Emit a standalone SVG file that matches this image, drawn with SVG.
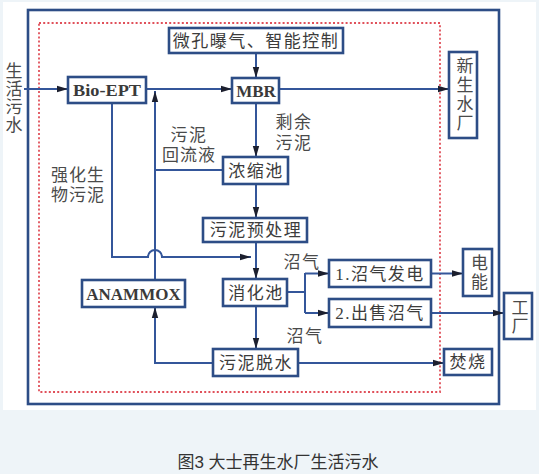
<svg xmlns="http://www.w3.org/2000/svg" width="539" height="474" viewBox="0 0 539 474">
<defs>
<marker id="ah" markerWidth="11" markerHeight="8" refX="11" refY="4" orient="auto" markerUnits="userSpaceOnUse">
<path d="M0,0.8 L11,4 L0,7.2 z" fill="#1c1f2e"/>
</marker>
<style>
.box{fill:#fff;stroke:#2d4d86;stroke-width:2.6}
.ln{fill:none;stroke:#34569a;stroke-width:2}
.arr{fill:none;stroke:#34569a;stroke-width:2;marker-end:url(#ah)}
.cn{font-family:"Liberation Serif","Noto Sans CJK SC",serif;font-size:17px;fill:#3c3c3c;letter-spacing:1.5px}
.en{font-family:"Liberation Serif",serif;font-weight:bold;font-size:17px;fill:#3a3a3a}
.lbl{font-family:"Liberation Serif","Noto Sans CJK SC",serif;font-size:17px;fill:#4a4a4a}
.vt{font-family:"Liberation Serif","Noto Sans CJK SC",serif;font-size:17px;fill:#4a4a4a;writing-mode:vertical-rl;text-anchor:middle}
.cap{font-family:"Liberation Sans","Noto Sans CJK SC",sans-serif;font-size:17px;fill:#333}
</style>
</defs>
<rect x="0" y="0" width="539" height="474" fill="#eef4f8"/>
<rect x="3" y="2" width="533" height="408" fill="#fff"/>
<rect x="28" y="10" width="471" height="394" fill="none" stroke="#2d4d86" stroke-width="2.6"/>
<rect x="39" y="23" width="401" height="369" fill="none" stroke="#e0505a" stroke-width="1.8" stroke-dasharray="2 2.2"/>

<g id="connectors">
<path class="arr" d="M24,89 L68,89"/>
<path class="arr" d="M146,89 L232,89"/>
<path class="arr" d="M279,89 L449,89"/>
<path class="arr" d="M256,53 L256,78"/>
<path class="arr" d="M256,103 L256,157"/>
<path class="arr" d="M256,184 L256,218"/>
<path class="arr" d="M256,242 L256,279"/>
<path class="arr" d="M256,306 L256,349"/>
<path class="ln" d="M223,170 L155,170"/>
<path class="arr" d="M155,280 L155,91"/>
<path class="arr" d="M112,103 L112,257 L148,257 A7,7 0 0 1 162,257 L251,257"/>
<path class="ln" d="M287,292 L305,292"/>
<path class="ln" d="M305,273 L305,313"/>
<path class="arr" d="M305,273.5 L329,273.5"/>
<path class="arr" d="M305,313 L329,313"/>
<path class="arr" d="M431,273.5 L463,273.5"/>
<path class="arr" d="M431,313 L504,313"/>
<path class="arr" d="M298,363 L444,363"/>
<path class="arr" d="M213,363 L155,363 L155,307"/>
</g>

<g id="n-aeration"><rect class="box" x="169" y="28" width="174" height="25"/><text class="cn" x="256" y="41" text-anchor="middle" dominant-baseline="central" letter-spacing="0.5">微孔曝气、智能控制</text></g>
<g id="n-bioept"><rect class="box" x="68" y="77" width="78" height="26"/><text class="en" x="107" y="90.5" text-anchor="middle" dominant-baseline="central" textLength="68" lengthAdjust="spacingAndGlyphs">Bio-EPT</text></g>
<g id="n-mbr"><rect class="box" x="232" y="78" width="47" height="25"/><text class="en" x="256" y="91" text-anchor="middle" dominant-baseline="central">MBR</text></g>
<g id="n-newater"><rect class="box" x="449" y="52" width="28" height="86"/>
<text class="vt" x="463" y="95" letter-spacing="2">新生水厂</text></g>
<g id="n-thick"><rect class="box" x="223" y="157" width="65" height="27"/><text class="cn" x="256" y="171" text-anchor="middle" dominant-baseline="central">浓缩池</text></g>
<g id="n-pretreat"><rect class="box" x="203" y="218" width="104" height="24"/><text class="cn" x="256" y="230.5" text-anchor="middle" dominant-baseline="central">污泥预处理</text></g>
<g id="n-digest"><rect class="box" x="223" y="279" width="64" height="27"/><text class="cn" x="256" y="293" text-anchor="middle" dominant-baseline="central">消化池</text></g>
<g id="n-anammox"><rect class="box" x="82" y="280" width="103" height="27"/><text class="en" x="133.5" y="294" text-anchor="middle" dominant-baseline="central">ANAMMOX</text></g>
<g id="n-dewater"><rect class="box" x="213" y="349" width="85" height="27"/><text class="cn" x="256" y="363" text-anchor="middle" dominant-baseline="central">污泥脱水</text></g>
<g id="n-power"><rect class="box" x="329" y="260" width="102" height="27"/><text class="cn" x="380" y="274" text-anchor="middle" dominant-baseline="central" letter-spacing="1">1.沼气发电</text></g>
<g id="n-sell"><rect class="box" x="329" y="299" width="102" height="28"/><text class="cn" x="380" y="313.5" text-anchor="middle" dominant-baseline="central" letter-spacing="1">2.出售沼气</text></g>
<g id="n-energy"><rect class="box" x="463" y="249" width="29" height="47"/>
<text class="vt" x="477.5" y="273.5" letter-spacing="2">电能</text></g>
<g id="n-factory"><rect class="box" x="504" y="293" width="28" height="46"/>
<text class="vt" x="518" y="317" letter-spacing="1">工厂</text></g>
<g id="n-incin"><rect class="box" x="444" y="349" width="48" height="26"/><text class="cn" x="468" y="362.5" text-anchor="middle" dominant-baseline="central" letter-spacing="0.5">焚烧</text></g>

<g id="labels">
<text class="vt" x="12" y="98" font-size="16" letter-spacing="1">生活污水</text>
<text class="lbl" x="294" y="122" text-anchor="middle" dominant-baseline="central" letter-spacing="1.5">剩余</text>
<text class="lbl" x="294" y="143" text-anchor="middle" dominant-baseline="central" letter-spacing="1.5">污泥</text>
<text class="lbl" x="189" y="135" text-anchor="middle" dominant-baseline="central" letter-spacing="1.5">污泥</text>
<text class="lbl" x="189" y="155" text-anchor="middle" dominant-baseline="central" letter-spacing="1">回流液</text>
<text class="lbl" x="78" y="175" text-anchor="middle" dominant-baseline="central" letter-spacing="1">强化生</text>
<text class="lbl" x="78" y="195" text-anchor="middle" dominant-baseline="central" letter-spacing="1">物污泥</text>
<text class="lbl" x="302" y="262" text-anchor="middle" dominant-baseline="central" letter-spacing="1.5">沼气</text>
<text class="lbl" x="305" y="336" text-anchor="middle" dominant-baseline="central" letter-spacing="1.5">沼气</text>
</g>
<text class="cap" x="278" y="462" text-anchor="middle" dominant-baseline="central">图3 大士再生水厂生活污水</text>
</svg>
